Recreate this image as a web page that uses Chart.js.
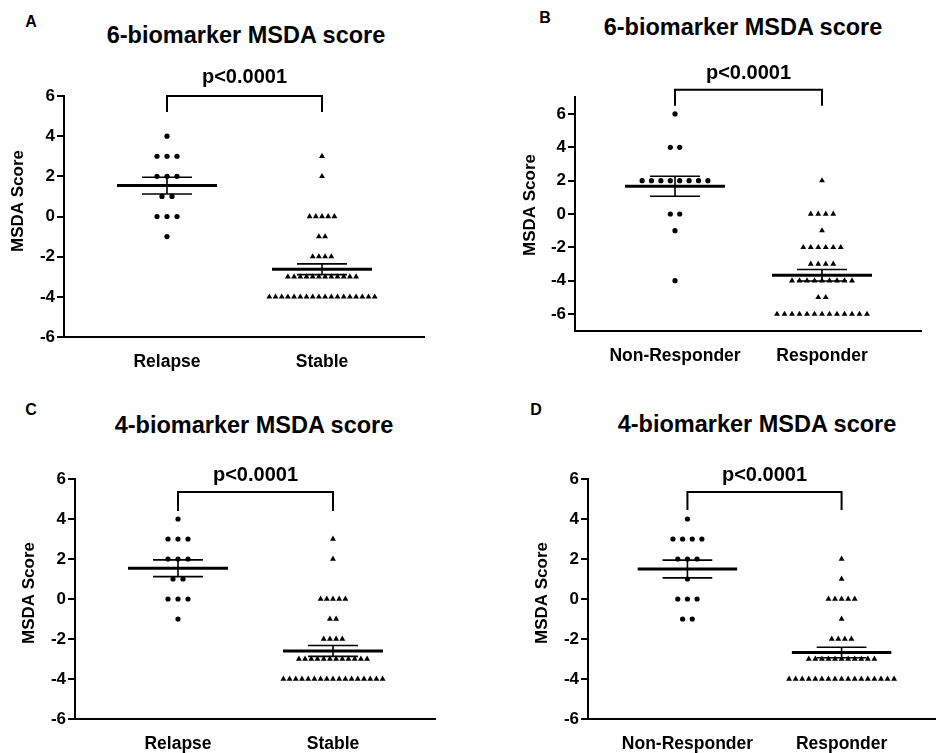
<!DOCTYPE html>
<html>
<head>
<meta charset="utf-8">
<script src="https://cdn.jsdelivr.net/npm/chart.js@4.4.1/dist/chart.umd.min.js"></script>
<style>
  html, body { margin:0; padding:0; background:#fff; }
  body { width:939px; height:753px; position:relative; overflow:hidden; font-family:"Liberation Sans", Arial, Helvetica, sans-serif; }
  canvas { position:absolute; }
  .lbl { position:absolute; font-weight:bold; color:#000; transform:translate(-50%,-50%); white-space:nowrap; }
  .letter { font-size:16px; }
  .ttl { font-size:23.5px; }
</style>
</head>
<body>
<div class="lbl letter" style="left:31px;top:22px">A</div>
<div class="lbl ttl" style="left:246px;top:35px">6-biomarker MSDA score</div>
<div class="lbl letter" style="left:545px;top:18px">B</div>
<div class="lbl ttl" style="left:743px;top:27px">6-biomarker MSDA score</div>
<div class="lbl letter" style="left:31px;top:410px">C</div>
<div class="lbl ttl" style="left:254px;top:425px">4-biomarker MSDA score</div>
<div class="lbl letter" style="left:536px;top:410px">D</div>
<div class="lbl ttl" style="left:757px;top:424px">4-biomarker MSDA score</div>

<canvas id="cA" width="470" height="380" style="left:0px;top:0px"></canvas>
<canvas id="cB" width="469" height="380" style="left:470px;top:0px"></canvas>
<canvas id="cC" width="470" height="373" style="left:0px;top:380px"></canvas>
<canvas id="cD" width="469" height="373" style="left:470px;top:380px"></canvas>

<script>
// ---------------- DATA ----------------
const yTickValues = [-6, -4, -2, 0, 2, 4, 6];
const yAxisTitle = 'MSDA Score';
const pText = 'p<0.0001';
const catsRelapse = ['Relapse', 'Stable'];
const catsResponse = ['Non-Responder', 'Responder'];

// Panel A: 6-biomarker, Relapse vs Stable
const relapseA = [4, 3, 3, 3, 2, 2, 2, 1, 1, 0, 0, 0, -1];
const stableA = [3, 2, 0, 0, 0, 0, 0, -1, -1, -2, -2, -2, -2,
  -3, -3, -3, -3, -3, -3, -3, -3, -3, -3, -3, -3,
  -4, -4, -4, -4, -4, -4, -4, -4, -4, -4, -4, -4, -4, -4, -4, -4, -4, -4];

// Panel B: 6-biomarker, Non-Responder vs Responder
const nonRespB = [6, 4, 4, 2, 2, 2, 2, 2, 2, 2, 2, 0, 0, -1, -4];
const respB = [2, 0, 0, 0, 0, -1, -2, -2, -2, -2, -2, -2, -3, -3, -3, -3,
  -4, -4, -4, -4, -4, -4, -4, -4, -4, -5, -5,
  -6, -6, -6, -6, -6, -6, -6, -6, -6, -6, -6, -6, -6];

// Panel C: 4-biomarker, Relapse vs Stable
const relapseC = [4, 3, 3, 3, 2, 2, 2, 1, 1, 0, 0, 0, -1];
const stableC = [3, 2, 0, 0, 0, 0, 0, -1, -1, -2, -2, -2, -2,
  -3, -3, -3, -3, -3, -3, -3, -3, -3, -3, -3, -3,
  -4, -4, -4, -4, -4, -4, -4, -4, -4, -4, -4, -4, -4, -4, -4, -4, -4];

// Panel D: 4-biomarker, Non-Responder vs Responder
const nonRespD = [4, 3, 3, 3, 3, 2, 2, 2, 1, 0, 0, 0, -1, -1];
const respD = [2, 1, 0, 0, 0, 0, 0, -1, -2, -2, -2, -2,
  -3, -3, -3, -3, -3, -3, -3, -3, -3, -3, -3,
  -4, -4, -4, -4, -4, -4, -4, -4, -4, -4, -4, -4, -4, -4, -4, -4, -4];

// ---------------- LAYOUT ----------------
const FONT = '"Liberation Sans", Arial, Helvetica, sans-serif';
const panels = [
  { id:'cA', cLeft:0, cTop:0, W:470, H:380, aLeft:64, aTop:96, aBottom:337, ppu:155,
    xmin:0.3355, xmax:2.6645, ymin:-6, ymax:6, cats:catsRelapse, g1:relapseA, g2:stableA,
    dot:10, tri:6.2, br:{y:6.0, tick:5.2, text:6.9}, yt:{x:18, y:201} },
  { id:'cB', cLeft:470, cTop:0, W:469, H:380, aLeft:575, aTop:97.3, aBottom:330.7, ppu:147,
    xmin:0.3197, xmax:2.68, ymin:-7, ymax:7, cats:catsResponse, g1:nonRespB, g2:respB,
    dot:9.4, tri:7.5, br:{y:7.45, tick:6.5, text:8.4}, yt:{x:530, y:205} },
  { id:'cC', cLeft:0, cTop:380, W:470, H:373, aLeft:75, aTop:479, aBottom:719, ppu:155,
    xmin:0.3355, xmax:2.6645, ymin:-6, ymax:6, cats:catsRelapse, g1:relapseC, g2:stableC,
    dot:10, tri:6.2, br:{y:5.35, tick:4.4, text:6.2}, yt:{x:29, y:593} },
  { id:'cD', cLeft:470, cTop:380, W:469, H:373, aLeft:588, aTop:479, aBottom:719, ppu:155,
    xmin:0.355, xmax:2.606, ymin:-6, ymax:6, cats:catsResponse, g1:nonRespD, g2:respD,
    dot:9.7, tri:6.6, br:{y:5.35, tick:4.45, text:6.2}, yt:{x:542, y:593} },
];

function swarm(values, cat, spacing) {
  const rows = {};
  values.forEach(v => { (rows[v] = rows[v] || []).push(v); });
  const pts = [];
  Object.keys(rows).forEach(k => {
    const n = rows[k].length;
    rows[k].forEach((v, i) => pts.push({ x: cat + (i - (n - 1) / 2) * spacing, y: v }));
  });
  return pts;
}

function stats(vals) {
  const n = vals.length;
  const m = vals.reduce((a, b) => a + b, 0) / n;
  const sd = Math.sqrt(vals.reduce((a, b) => a + (b - m) * (b - m), 0) / (n - 1));
  return { m, sem: sd / Math.sqrt(n) };
}

panels.forEach(p => {
  const areaW = (p.xmax - p.xmin) * p.ppu;
  const leftW = p.aLeft - p.cLeft;
  const rightPad = p.W - leftW - areaW;
  const topPad = p.aTop - p.cTop;
  const bottomH = p.H - (p.aBottom - p.cTop);

  const overlay = {
    id: 'overlay_' + p.id,
    afterDatasetsDraw(chart) {
      const xs = chart.scales.x, ys = chart.scales.y, ctx = chart.ctx;
      ctx.save();
      ctx.strokeStyle = '#000';
      [[p.g1, 1], [p.g2, 2]].forEach(([vals, cat]) => {
        const s = stats(vals);
        const meanHalf = 50 / p.ppu, semHalf = 25 / p.ppu;
        const ym = ys.getPixelForValue(s.m);
        const yHi = ys.getPixelForValue(s.m + s.sem);
        const yLo = ys.getPixelForValue(s.m - s.sem);
        ctx.lineWidth = 3;
        ctx.beginPath();
        ctx.moveTo(xs.getPixelForValue(cat - meanHalf), ym);
        ctx.lineTo(xs.getPixelForValue(cat + meanHalf), ym);
        ctx.stroke();
        ctx.lineWidth = 1.6;
        ctx.beginPath();
        ctx.moveTo(xs.getPixelForValue(cat - semHalf), yHi);
        ctx.lineTo(xs.getPixelForValue(cat + semHalf), yHi);
        ctx.moveTo(xs.getPixelForValue(cat - semHalf), yLo);
        ctx.lineTo(xs.getPixelForValue(cat + semHalf), yLo);
        ctx.moveTo(xs.getPixelForValue(cat), yHi);
        ctx.lineTo(xs.getPixelForValue(cat), yLo);
        ctx.stroke();
      });
      // significance bracket
      const x1 = xs.getPixelForValue(1), x2 = xs.getPixelForValue(2);
      const yb = ys.getPixelForValue(p.br.y), yt = ys.getPixelForValue(p.br.tick);
      ctx.lineWidth = 2;
      ctx.beginPath();
      ctx.moveTo(x1, yt); ctx.lineTo(x1, yb); ctx.lineTo(x2, yb); ctx.lineTo(x2, yt);
      ctx.stroke();
      ctx.fillStyle = '#000';
      ctx.font = 'bold 20px ' + FONT;
      ctx.textAlign = 'center';
      ctx.textBaseline = 'middle';
      ctx.fillText(pText, (x1 + x2) / 2, ys.getPixelForValue(p.br.text));
      // y axis title
      ctx.translate(p.yt.x - p.cLeft, p.yt.y - p.cTop);
      ctx.rotate(-Math.PI / 2);
      ctx.font = 'bold 17px ' + FONT;
      ctx.fillText(yAxisTitle, 0, 0);
      ctx.restore();
    }
  };

  new Chart(document.getElementById(p.id), {
    type: 'scatter',
    data: {
      datasets: [
        { data: swarm(p.g1, 1, p.dot / p.ppu), pointStyle: 'circle', pointRadius: 2.6,
          backgroundColor: '#000', borderColor: '#000', borderWidth: 0 },
        { data: swarm(p.g2, 2, p.tri / p.ppu), pointStyle: 'triangle', pointRadius: 3.4,
          backgroundColor: '#000', borderColor: '#000', borderWidth: 0 }
      ]
    },
    options: {
      responsive: false, animation: false, devicePixelRatio: 1,
      layout: { padding: { left: 0, top: topPad, right: rightPad, bottom: 0 } },
      plugins: { legend: { display: false }, tooltip: { enabled: false }, title: { display: false } },
      scales: {
        x: {
          type: 'linear', min: p.xmin, max: p.xmax,
          afterBuildTicks: s => { s.ticks = [{ value: 1 }, { value: 2 }]; },
          ticks: { callback: v => p.cats[v - 1], color: '#000', padding: 15, autoSkip: false, maxRotation: 0,
                   font: { family: FONT, size: 17.5, weight: 'bold' } },
          grid: { display: false, drawTicks: false },
          border: { display: true, color: '#000', width: 2 },
          afterFit: s => { s.height = bottomH; s.paddingLeft = 0; s.paddingRight = 0; }
        },
        y: {
          type: 'linear', min: p.ymin, max: p.ymax,
          afterBuildTicks: s => { s.ticks = yTickValues.map(v => ({ value: v })); },
          ticks: { color: '#000', padding: 2, font: { family: FONT, size: 17, weight: 'bold' } },
          grid: { display: true, drawOnChartArea: false, drawTicks: true, tickLength: 7, color: '#000', lineWidth: 2 },
          border: { display: true, color: '#000', width: 2 },
          title: { display: false },
          afterFit: s => { s.width = leftW; s.paddingTop = 0; s.paddingBottom = 0; }
        }
      }
    },
    plugins: [overlay]
  });
});
</script>
</body>
</html>
